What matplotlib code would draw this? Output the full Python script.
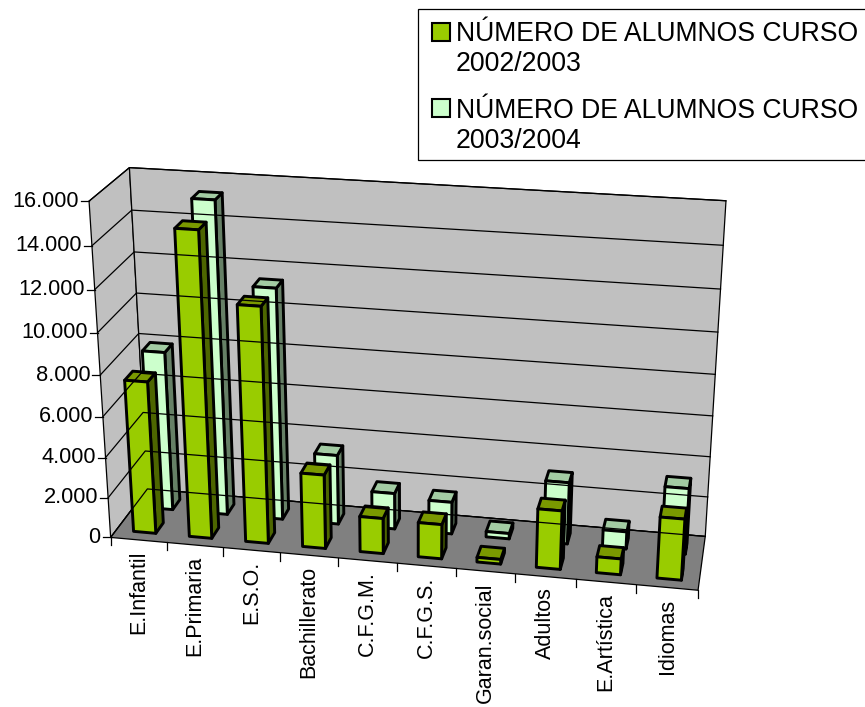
import numpy as np
import matplotlib
matplotlib.use("Agg")
import matplotlib.pyplot as plt
from matplotlib.patches import Polygon, Rectangle

plt.rcParams["font.family"] = ["Liberation Sans", "DejaVu Sans"]

# Data
categories = ["E.Infantil", "E.Primaria", "E.S.O.", "Bachillerato", "C.F.G.M.",
              "C.F.G.S.", "Garan.social", "Adultos", "E.Artística", "Idiomas"]
alumnos_2002 = [7500, 14750, 11450, 3650, 1750, 1700, 230, 2870, 780, 2970]
alumnos_2003 = [7935, 15330, 11400, 3480, 1800, 1600, 270, 3060, 860, 3250]
y_ticks = [0, 2000, 4000, 6000, 8000, 10000, 12000, 14000, 16000]
y_labels = ["0", "2.000", "4.000", "6.000", "8.000", "10.000", "12.000", "14.000", "16.000"]
legend_names = ["NÚMERO DE ALUMNOS CURSO\n2002/2003", "NÚMERO DE ALUMNOS CURSO\n2003/2004"]

YMAX = 16000
N = len(categories)

# Box corners on the page: (category pos, depth, value) -> pixel
box_pts = [
    ((0, 0, 0), (110, 537.3)),
    ((0, 0, YMAX), (89.5, 201.5)),
    ((0, 1, 0), (148, 489)),
    ((0, 1, YMAX), (129, 167.3)),
    ((N, 1, 0), (705, 536.7)),
    ((N, 1, YMAX), (726, 200.7)),
    ((N, 0, 0), (698.3, 590)),
]


def fit_camera(pts):
    rows = []
    for (u, v, w), (x, y) in pts:
        p = [u / N, v, w / YMAX, 1]
        rows.append(p + [0, 0, 0, 0] + [-x * c for c in p])
        rows.append([0, 0, 0, 0] + p + [-y * c for c in p])
    vt = np.linalg.svd(np.array(rows))[2]
    return vt[-1].reshape(3, 4)


CAM = fit_camera(box_pts)


def proj(u, v, w):
    res = CAM @ np.array([u / N, v, w / YMAX, 1])
    return res[0] / res[2], res[1] / res[2]


def draw_bar(ax, i, val, v0, v1, colors):
    u0, u1 = i + 0.31, i + 0.71
    front = [proj(u0, v0, 0), proj(u1, v0, 0), proj(u1, v0, val), proj(u0, v0, val)]
    side = [proj(u1, v0, 0), proj(u1, v1, 0), proj(u1, v1, val), proj(u1, v0, val)]
    top = [proj(u0, v0, val), proj(u1, v0, val), proj(u1, v1, val), proj(u0, v1, val)]
    for pts, col in zip([side, top, front], colors):
        ax.add_patch(Polygon(pts, closed=True, facecolor=col, edgecolor="black",
                             lw=2.1, joinstyle="round"))


fig = plt.figure(figsize=(8.65, 7.07), dpi=100)
ax = fig.add_axes([0, 0, 1, 1])
ax.set_xlim(0, 865)
ax.set_ylim(707, 0)
ax.axis("off")

# Walls and floor
wall_kw = dict(closed=True, edgecolor="black", lw=0.9)
ax.add_patch(Polygon([proj(0, 0, 0), proj(0, 1, 0), proj(0, 1, YMAX), proj(0, 0, YMAX)],
                     facecolor="#C0C0C0", **wall_kw))
ax.add_patch(Polygon([proj(0, 1, 0), proj(N, 1, 0), proj(N, 1, YMAX), proj(0, 1, YMAX)],
                     facecolor="#C0C0C0", **wall_kw))
ax.add_patch(Polygon([proj(0, 0, 0), proj(N, 0, 0), proj(N, 1, 0), proj(0, 1, 0)],
                     facecolor="#808080", **wall_kw))

# Gridlines and value axis
for t, lab in zip(y_ticks, y_labels):
    a, b, c = proj(0, 0, t), proj(0, 1, t), proj(N, 1, t)
    ax.plot([a[0], b[0], c[0]], [a[1], b[1], c[1]], color="black", lw=0.9)
    ax.plot([a[0] - 8, a[0]], [a[1], a[1]], color="black", lw=0.9)
    ax.text(a[0] - 10, a[1], lab, ha="right", va="center", fontsize=15.7)

# Category ticks and labels
for i in range(N + 1):
    x, y = proj(i, 0, 0)
    ax.plot([x, x], [y, y + 8], color="black", lw=0.9)
for i, name in enumerate(categories):
    x, y = proj(i + 0.5, 0, 0)
    ax.text(x, y + 11, name, rotation=90, ha="center", va="top", fontsize=15.5)

# Bars, back series first
dark = ["#4D6600", "#7A9900", "#99CC00"]
light = ["#668066", "#A3CCA3", "#CCFFCC"]
for i, val in enumerate(alumnos_2003):
    draw_bar(ax, i, val, 0.63, 0.84, light)
for i, val in enumerate(alumnos_2002):
    draw_bar(ax, i, val, 0.15, 0.36, dark)

# Legend
ax.add_patch(Rectangle((417.5, 8.5), 460, 151.5, facecolor="white", edgecolor="black", lw=0.9))
for name, col, sy, ty in zip(legend_names, ["#99CC00", "#CCFFCC"], [23, 99], [49, 125.5]):
    ax.add_patch(Rectangle((432, sy), 18, 17.5, facecolor=col, edgecolor="black", lw=1.5))
    ax.text(455.5, ty, name, ha="left", va="center", fontsize=19.2, linespacing=1.2)

fig.savefig("out.png", dpi=100)
